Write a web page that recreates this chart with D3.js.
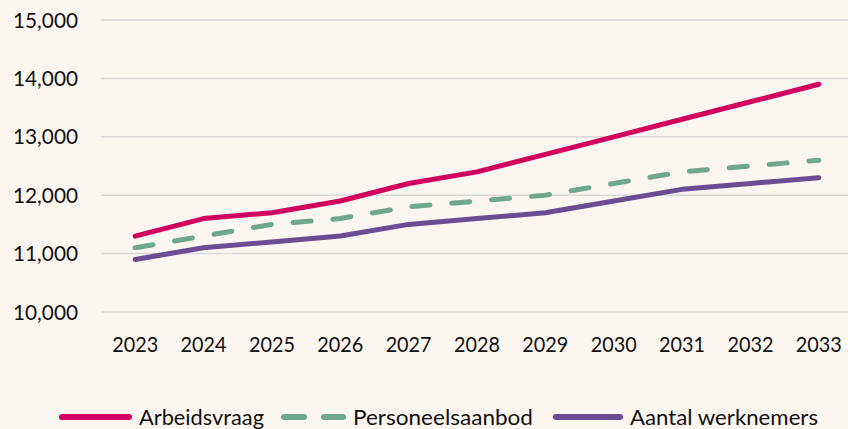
<!DOCTYPE html>
<html>
<head>
<meta charset="utf-8">
<script src="https://cdn.jsdelivr.net/npm/d3@7"></script>
<style>
  body { margin: 0; background: #fbf6f0; }
  text { font-family: Lato, "Open Sans", sans-serif; fill: #111; }
</style>
</head>
<body>
<div id="chart"></div>
<script>
// data
const years = ["2023", "2024", "2025", "2026", "2027", "2028", "2029", "2030", "2031", "2032", "2033"];
const arbeidsvraag = [11300, 11600, 11700, 11900, 12200, 12400, 12700, 13000, 13300, 13600, 13900];
const personeelsaanbod = [11100, 11300, 11500, 11600, 11800, 11900, 12000, 12200, 12400, 12500, 12600];
const aantalWerknemers = [10900, 11100, 11200, 11300, 11500, 11600, 11700, 11900, 12100, 12200, 12300];
const yTicks = [10000, 11000, 12000, 13000, 14000, 15000];

const seriesNames = ["Arbeidsvraag", "Personeelsaanbod", "Aantal werknemers"];
const seriesColors = ["#d1005f", "#6fa88f", "#6b4c92"];
const seriesDash = [null, "18,22", null];
const seriesValues = [arbeidsvraag, personeelsaanbod, aantalWerknemers];

const width = 848;
const height = 429;
const plot = { left: 101, right: 853, top: 20, bottom: 312 };

const svg = d3.select("#chart").append("svg")
    .attr("width", width)
    .attr("height", height);

svg.append("rect").attr("width", width).attr("height", height).attr("fill", "#fbf6f0");

const x = d3.scalePoint().domain(years).range([plot.left, plot.right]).padding(0.5);
const y = d3.scaleLinear().domain([10000, 15000]).range([plot.bottom, plot.top]);

// gridlines
svg.append("g").selectAll("line")
    .data(yTicks)
    .join("line")
    .attr("x1", plot.left)
    .attr("x2", width)
    .attr("y1", d => y(d))
    .attr("y2", d => y(d))
    .attr("stroke", "#d9d9d9")
    .attr("stroke-width", 1.5);

// y labels
svg.append("g").selectAll("text")
    .data(yTicks)
    .join("text")
    .attr("x", 78)
    .attr("y", d => y(d))
    .attr("dy", "0.36em")
    .attr("text-anchor", "end")
    .style("font-size", "21px")
    .attr("textLength", 65)
    .attr("lengthAdjust", "spacingAndGlyphs")
    .text(d => d3.format(",")(d));

// x labels
svg.append("g").selectAll("text")
    .data(years)
    .join("text")
    .attr("x", d => x(d))
    .attr("y", 352)
    .attr("text-anchor", "middle")
    .style("font-size", "22px")
    .attr("textLength", 46)
    .attr("lengthAdjust", "spacingAndGlyphs")
    .text(d => d);

// lines
const line = d3.line()
    .x((d, i) => x(years[i]))
    .y(d => y(d));

svg.append("g").selectAll("path")
    .data(seriesValues)
    .join("path")
    .attr("d", d => line(d))
    .attr("fill", "none")
    .attr("stroke", (d, i) => seriesColors[i])
    .attr("stroke-width", 5)
    .attr("stroke-linecap", "round")
    .attr("stroke-linejoin", "round")
    .attr("stroke-dasharray", (d, i) => seriesDash[i]);

// legend
const legendX = [60, 282, 554];
const legendLineLen = [71, 63, 68];
const legendTextLen = [125, 180, 188];
const legend = svg.append("g").selectAll("g")
    .data(seriesNames)
    .join("g")
    .attr("transform", (d, i) => `translate(${legendX[i]},417)`);

legend.append("line")
    .attr("x1", 2)
    .attr("x2", (d, i) => legendLineLen[i] - 2)
    .attr("stroke", (d, i) => seriesColors[i])
    .attr("stroke-width", 6)
    .attr("stroke-linecap", "round")
    .attr("stroke-dasharray", (d, i) => i === 1 ? "20,20" : null);

legend.append("text")
    .attr("x", (d, i) => legendLineLen[i] + 8)
    .attr("y", 8)
    .style("font-size", "22px")
    .attr("textLength", (d, i) => legendTextLen[i])
    .attr("lengthAdjust", "spacingAndGlyphs")
    .text(d => d);
</script>
</body>
</html>
